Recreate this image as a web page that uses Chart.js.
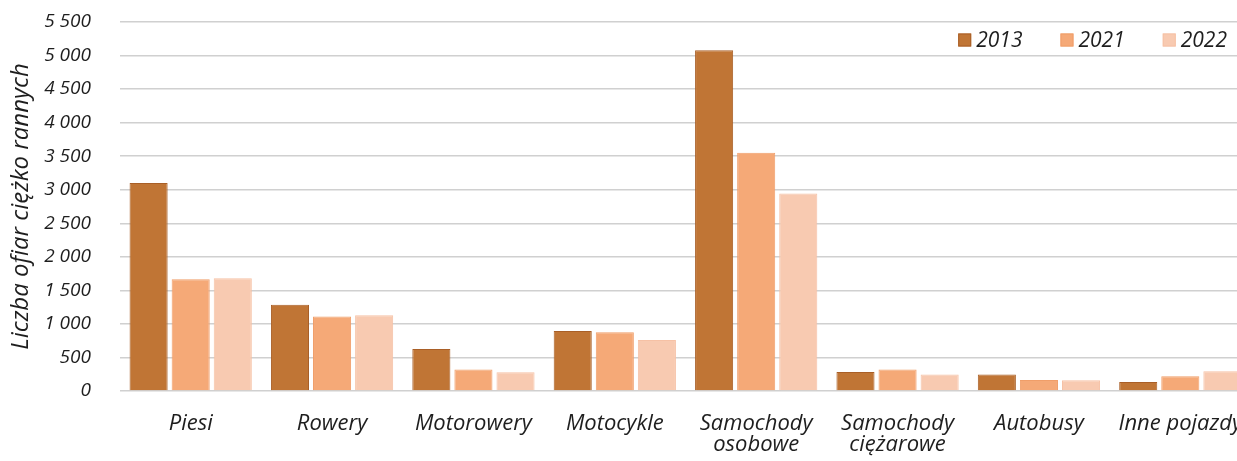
<!DOCTYPE html>
<html>
<head>
<meta charset="utf-8">
<script src="https://cdn.jsdelivr.net/npm/chart.js@4.4.0/dist/chart.umd.min.js"></script>
<style>
  html, body { margin: 0; padding: 0; background: #fff; overflow: hidden; }
  #wrap { width: 1237px; height: 461px; overflow: hidden; position: relative; }
  #inner { width: 1251px; height: 461px; }
</style>
</head>
<body>
<div id="wrap"><div id="inner"><canvas id="c" width="1251" height="461"></canvas></div></div>
<script>
// Ciężko ranni według rodzaju uczestnika ruchu
const categories = ['Piesi', 'Rowery', 'Motorowery', 'Motocykle', ['Samochody', 'osobowe'], ['Samochody', 'ciężarowe'], 'Autobusy', 'Inne pojazdy'];
const years = ['2013', '2021', '2022'];
const values2013 = [3100, 1285, 625, 895, 5080, 285, 245, 135];
const values2021 = [1665, 1110, 320, 875, 3550, 320, 165, 220];
const values2022 = [1680, 1130, 280, 760, 2945, 245, 160, 295];
const yMax = 5500;
const yStep = 500;
const yTitle = 'Liczba ofiar ciężko rannych';

const fills = ['#C07535', '#F5A977', '#F8CAB1'];
const borders = ['#A95F27', '#F09E69', '#F6C1A5'];
const FONT = '"Open Sans", Lato, sans-serif';
const TEXT = '#1e1e1e';
const NONE = 'rgba(0,0,0,0)';

function fmt(v) {
  return String(v).replace(/\B(?=(\d{3})+(?!\d))/g, ' ');
}

// Legend drawn in the top-right corner of the plot area
const cornerLegend = {
  id: 'cornerLegend',
  afterDraw(chart) {
    const ctx = chart.ctx;
    const area = chart.chartArea;
    const box = 13, gap = 5, itemGap = 38;
    ctx.save();
    ctx.font = 'italic 21px ' + FONT;
    const items = chart.data.datasets.map(ds => ({ ds, w: ctx.measureText(ds.label).width }));
    const total = items.reduce((s, it) => s + box + gap + it.w, 0) + itemGap * (items.length - 1);
    let x = area.right - 24 - total;
    const cy = area.top + 18;
    ctx.textBaseline = 'middle';
    ctx.textAlign = 'left';
    items.forEach(it => {
      ctx.fillStyle = it.ds.backgroundColor;
      ctx.fillRect(x, cy - box / 2, box, box);
      ctx.strokeStyle = it.ds.borderColor;
      ctx.lineWidth = 1;
      ctx.strokeRect(x + 0.5, cy - box / 2 + 0.5, box - 1, box - 1);
      x += box + gap;
      ctx.fillStyle = TEXT;
      ctx.fillText(it.ds.label, x, cy + 1);
      x += it.w + itemGap;
    });
    ctx.restore();
  }
};

const seriesValues = [values2013, values2021, values2022];

new Chart(document.getElementById('c'), {
  type: 'bar',
  data: {
    labels: categories,
    datasets: years.map((y, i) => ({
      label: y,
      data: seriesValues[i],
      backgroundColor: fills[i],
      borderColor: borders[i],
      borderWidth: 1,
      categoryPercentage: 0.893,
      barPercentage: 0.905
    }))
  },
  options: {
    responsive: false,
    animation: false,
    layout: { padding: { top: 22, right: 0, bottom: 0, left: 0 } },
    plugins: {
      legend: { display: false },
      tooltip: { enabled: false }
    },
    scales: {
      x: {
        grid: { display: true, drawOnChartArea: false, drawTicks: true, tickLength: 22, tickColor: NONE, color: NONE },
        border: { display: false },
        ticks: {
          color: TEXT,
          padding: 0,
          maxRotation: 0,
          autoSkip: false,
          font: { family: FONT, size: 22, style: 'italic', lineHeight: 0.95 }
        },
        afterFit(scale) { scale.height = 70; }
      },
      y: {
        min: 0,
        max: yMax,
        grid: { color: '#d0d0d0', lineWidth: 1.5, drawTicks: true, tickLength: 29, tickColor: NONE },
        border: { display: false },
        ticks: {
          stepSize: yStep,
          color: TEXT,
          padding: 0,
          font: { family: FONT, size: 19, style: 'italic' },
          callback: v => fmt(v)
        },
        title: {
          display: true,
          text: yTitle,
          color: TEXT,
          padding: { top: 7, bottom: 0 },
          font: { family: FONT, size: 24, style: 'italic' }
        },
        afterFit(scale) { scale.width = 120; }
      }
    }
  },
  plugins: [cornerLegend]
});
</script>
</body>
</html>
